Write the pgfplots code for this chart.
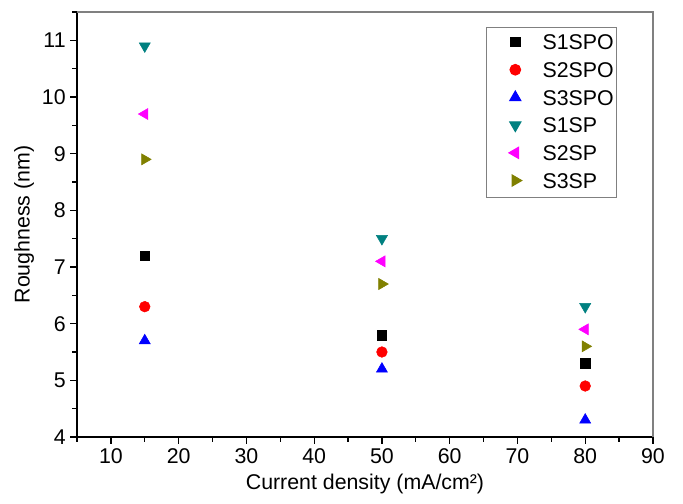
\documentclass[border=0pt]{standalone}
\usepackage{fontspec}
\setmainfont{Liberation Sans}
\usepackage{pgfplots}
\pgfplotsset{compat=1.18}
\newcommand\f{\fontsize{16}{19}\selectfont}
\definecolor{cteal}{RGB}{0,128,128}
\definecolor{colive}{RGB}{128,128,0}
\definecolor{cmag}{RGB}{255,0,255}
\begin{document}
\begin{tikzpicture}
\useasboundingbox (-57.75pt,-50.25pt) rectangle (454.5pt,327.75pt);
\begin{axis}[
  at={(0,0)}, anchor=south west,
  scale only axis, width=432pt, height=318.75pt,
  xmin=5, xmax=90, ymin=4, ymax=11.5,
  xtick={10,20,...,90}, ytick={4,5,...,11},
  minor xtick={5,15,...,85}, minor ytick={4.5,5.5,...,11.5},
  axis lines*=left,
  axis line style={line width=1pt, black},
  tick align=outside,
  major tick length=5pt, minor tick length=3.5pt,
  every tick/.style={black, line width=1pt},
  /pgf/number format/assume math mode=true,
  tick label style={font=\f},
  label style={font=\f},
  xlabel={Current density (mA/cm²)},
  ylabel={Roughness (nm)},
  xlabel style={yshift=-1pt},
  ylabel style={yshift=-1pt},
  legend style={at={(0.9375,0.965)}, anchor=north east, draw=gray, line width=0.8pt,
    font=\f, row sep=4.1pt, inner xsep=0pt, inner ysep=3.5pt},
  legend cell align=left,
  legend image code/.code={\path[draw=none] (0,0) -- (1.4cm,0); \draw[#1] plot coordinates {(0.75cm,0.03cm)};},
  clip=false,
]
\addplot[only marks, mark=square*, mark size=3.6pt, black] coordinates {(15,7.2) (50,5.8) (80,5.3)};
\addlegendentry{S1SPO}
\addplot[only marks, mark=*, mark size=4pt, red, mark options={draw=red, fill=red}] coordinates {(15,6.3) (50,5.5) (80,4.9)};
\addlegendentry{S2SPO}
\addplot[only marks, mark=triangle*, mark size=4.8pt, blue, mark options={draw=blue, fill=blue}] coordinates {(15,5.7) (50,5.2) (80,4.3)};
\addlegendentry{S3SPO}
\addplot[only marks, mark=triangle*, mark size=4.8pt, cteal, mark options={rotate=180, draw=cteal, fill=cteal}] coordinates {(15,10.9) (50,7.5) (80,6.3)};
\addlegendentry{S1SP}
\addplot[only marks, mark=triangle*, mark size=4.8pt, cmag, mark options={rotate=90, draw=cmag, fill=cmag}] coordinates {(15,9.7) (50,7.1) (80,5.9)};
\addlegendentry{S2SP}
\addplot[only marks, mark=triangle*, mark size=4.8pt, colive, mark options={rotate=-90, draw=colive, fill=colive}] coordinates {(15,8.9) (50,6.7) (80,5.6)};
\addlegendentry{S3SP}
\draw[gray, line width=1pt] (rel axis cs:0,1) -- (rel axis cs:1,1) -- (rel axis cs:1,0);
\end{axis}
\end{tikzpicture}
\end{document}
